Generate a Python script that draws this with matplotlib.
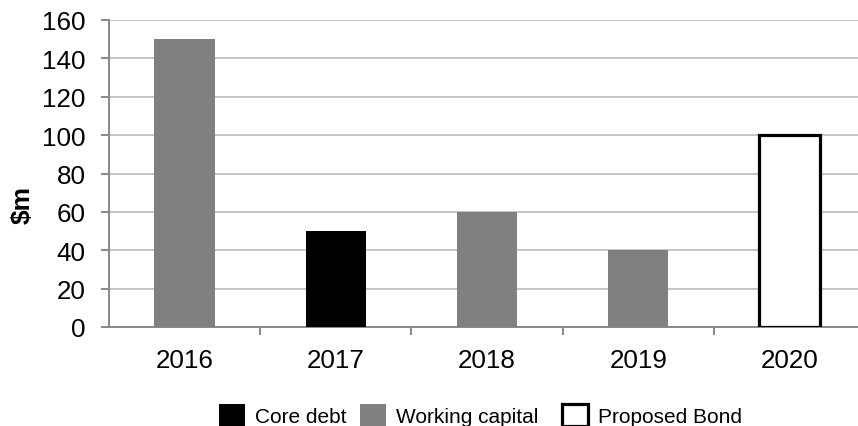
import numpy as np
import matplotlib
matplotlib.use("Agg")
import matplotlib.pyplot as plt
from matplotlib.ticker import FixedLocator, NullFormatter

plt.rcParams['font.family'] = ['Liberation Sans', 'DejaVu Sans']

years = ["2016", "2017", "2018", "2019", "2020"]
core_debt = [0, 50, 0, 0, 0]
working_capital = [150, 0, 60, 40, 0]
proposed_bond = [0, 0, 0, 0, 100]
y_ticks = [0, 20, 40, 60, 80, 100, 120, 140, 160]

fig = plt.figure(figsize=(8.58, 4.27), dpi=100)
ax = fig.add_axes([109 / 858, 99 / 427, 756 / 858, 307 / 427])

x = np.arange(len(years))
width = 0.40


def draw(values, **kw):
    v = np.asarray(values, dtype=float)
    idx = np.nonzero(v)[0]
    return ax.bar(x[idx], v[idx], width=width, zorder=3, **kw)


b1 = draw(core_debt, color="#000000", label="Core debt")
b2 = draw(working_capital, color="#808080", label="Working capital")
b3 = draw(proposed_bond, facecolor="white", edgecolor="black",
          linewidth=2.3, label="Proposed Bond")

ax.set_xlim(-0.5, len(years) - 0.5)
ax.set_ylim(0, 160)
ax.set_yticks(y_ticks)
ax.set_xticks(x)
ax.set_xticklabels(years)
ax.xaxis.set_minor_locator(FixedLocator(np.arange(0.5, len(years) - 0.5, 1.0)))
ax.xaxis.set_minor_formatter(NullFormatter())

ax.yaxis.grid(True, color="#c0c0c0", linewidth=1.3, zorder=0)
ax.set_axisbelow(True)

for s in ("top", "right"):
    ax.spines[s].set_visible(False)
for s in ("left", "bottom"):
    ax.spines[s].set_color("#888888")
    ax.spines[s].set_linewidth(1.4)

ax.tick_params(axis="y", length=6, width=1.4, color="#888888",
               labelsize=18.7, pad=11)
ax.tick_params(axis="x", which="major", length=0, labelsize=18.7, pad=15)
ax.tick_params(axis="x", which="minor", length=5.5, width=1.4, color="#888888")

fig.text(23 / 858, 1 - 205 / 427, "$m", rotation=90, fontsize=19,
         fontweight="bold", ha="center", va="center")

# one legend entry per box so each key sits at its own spot along the bottom
legend_left = [219, 360, 562]
for handle, left in zip([b1, b2, b3], legend_left):
    fig.legend(handles=[handle], loc="center left",
               bbox_to_anchor=(left / 858, 11 / 427), frameon=False,
               fontsize=15, handlelength=1.24, handleheight=1.24,
               handletextpad=0.48, borderpad=0, borderaxespad=0)

fig.savefig("out.png", dpi=100)
